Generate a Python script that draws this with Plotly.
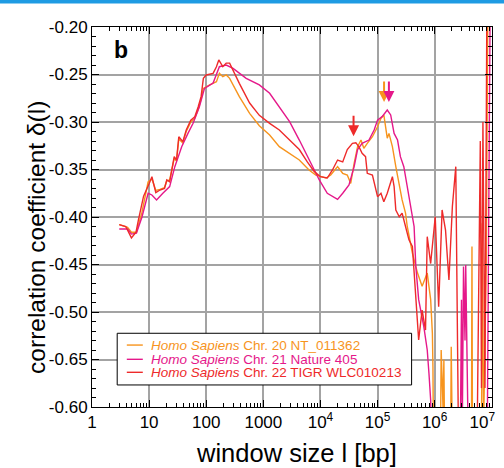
import math
import plotly.graph_objects as go

# ---- data (window size l in bp, correlation coefficient) ----
chr20_x = [3.0, 4.2, 4.9, 6.0, 7.5, 9.6, 11.2, 13.1, 15.5, 18.6, 20.4, 22.9, 27.5, 30.2, 33.1, 38.9,
           44.7, 53.7, 63.1, 72.4, 81.3, 89.1, 115, 151, 170, 195, 224, 257, 380, 575, 851, 1290,
           1905, 2884, 4266, 6310, 8318, 12590, 15140, 19950, 24550, 29510, 33880, 38900, 44670,
           51290, 57540, 66070, 81280, 100000, 114800, 128800, 147900, 158500, 182000, 208900,
           239900, 269200, 309000, 331100, 407400, 501200, 602600, 741300, 851100, 912000, 933000,
           955000, 1260000, 1300000, 1400000, 1450000, 1500000, 1900000, 1950000, 2050000,
           4400000, 4500000, 4600000, 6600000, 6800000, 7200000, 8000000, 8600000]
chr20_y = [-0.408, -0.411, -0.416, -0.416, -0.395, -0.363, -0.360, -0.372, -0.371, -0.369, -0.362,
           -0.361, -0.3385, -0.341, -0.318, -0.322, -0.310, -0.300, -0.296, -0.287, -0.276, -0.2646,
           -0.261, -0.2575, -0.2488, -0.2523, -0.2505, -0.254, -0.2733, -0.2909, -0.304, -0.3137,
           -0.326, -0.333, -0.340, -0.3505, -0.3558, -0.359, -0.3558, -0.347, -0.354, -0.3558,
           -0.3646, -0.3435, -0.326, -0.319, -0.3277, -0.3225, -0.3155, -0.305, -0.296, -0.2926,
           -0.317, -0.312, -0.326, -0.347, -0.368, -0.382, -0.396, -0.410, -0.438, -0.459, -0.473,
           -0.459, -0.487, -0.5225, -0.5576, -0.65, -0.65, -0.54, -0.60, -0.55, -0.65, -0.65,
           -0.5365, -0.65, -0.65, -0.431, -0.65, -0.65, -0.4067, -0.62, -0.45, -0.15]

chr21_x = [3.0, 4.2, 4.9, 6.0, 7.5, 9.6, 11.2, 13.5, 17.4, 22.9, 28.2, 37.2, 47.9, 58.9, 75.9, 93.3,
           132, 170, 224, 295, 501, 851, 1290, 1905, 2884, 4266, 6310, 9550, 13180, 19950, 24550,
           31620, 38900, 44670, 53700, 70800, 87100, 100000, 120200, 147900, 169800, 195000,
           223900, 251200, 288400, 331100, 380200, 436500, 467700, 524800, 645700, 741300, 794300,
           851100, 891300, 2800000, 2950000, 3050000, 3200000, 3400000, 3500000, 3700000, 3900000,
           8300000, 8900000, 9500000]
chr21_y = [-0.4126, -0.4126, -0.418, -0.417, -0.400, -0.375, -0.3768, -0.382, -0.375, -0.368, -0.347,
           -0.326, -0.312, -0.3014, -0.284, -0.2646, -0.259, -0.2418, -0.240, -0.2435, -0.254,
           -0.261, -0.2698, -0.284, -0.2997, -0.319, -0.340, -0.361, -0.375, -0.3814, -0.375,
           -0.3663, -0.347, -0.329, -0.3225, -0.319, -0.3084, -0.298, -0.2944, -0.2874, -0.2926,
           -0.312, -0.319, -0.3365, -0.347, -0.368, -0.389, -0.410, -0.452, -0.487, -0.5155,
           -0.540, -0.5645, -0.5926, -0.65, -0.65, -0.487, -0.62, -0.452, -0.53, -0.4505, -0.56,
           -0.65, -0.65, -0.40, -0.12]

chr22_x = [3.0, 3.9, 4.9, 5.9, 6.5, 8.0, 10.0, 11.2, 13.1, 15.5, 18.6, 20.4, 22.9, 27.5, 30.2, 33.1,
           38.9, 44.7, 53.7, 63.1, 72.4, 81.3, 89.1, 100, 132, 151, 166, 195, 224, 257, 380, 575,
           851, 1290, 1905, 2884, 4266, 5888, 7762, 10000, 13180, 16220, 19950, 24550, 29510,
           36310, 41690, 47860, 53700, 61660, 66070, 81280, 100000, 114800, 128800, 147900,
           169800, 182000, 195000, 208900, 239900, 269200, 309000, 354800, 407400, 467700, 524800,
           602600, 691800, 741300, 851100, 1023000, 1175000, 1349000, 1549000, 1778000, 2042000,
           2344000, 2455000, 2630000, 5500000, 6300000, 6600000, 7000000, 7600000, 8300000]
chr22_y = [-0.408, -0.410, -0.422, -0.416, -0.403, -0.378, -0.365, -0.3576, -0.3744, -0.3716,
           -0.370, -0.361, -0.363, -0.3365, -0.340, -0.3155, -0.3207, -0.3084, -0.298, -0.2944,
           -0.284, -0.2733, -0.254, -0.2505, -0.2488, -0.2418, -0.2347, -0.2418, -0.238, -0.238,
           -0.2593, -0.280, -0.293, -0.3015, -0.3084, -0.319, -0.329, -0.342, -0.352, -0.3576,
           -0.359, -0.3505, -0.340, -0.342, -0.329, -0.3225, -0.3218, -0.3267, -0.333, -0.3365,
           -0.354, -0.3558, -0.3786, -0.375, -0.384, -0.375, -0.3646, -0.3576, -0.368, -0.3926,
           -0.3997, -0.396, -0.410, -0.424, -0.431, -0.487, -0.5295, -0.498, -0.519, -0.4207,
           -0.449, -0.3997, -0.4944, -0.3926, -0.4137, -0.4663, -0.389, -0.347, -0.487, -0.65,
           -0.65, -0.32, -0.58, -0.30, -0.58, -0.12]

series_names = ["Chr. 20 NT_011362", "Chr. 21 Nature 405", "Chr. 22 TIGR WLC010213"]
series_colors = ["#f7941d", "#e5188a", "#ee2a2a"]

y_tickvals = [-0.60, -0.55, -0.50, -0.45, -0.40, -0.35, -0.30, -0.25, -0.20]
y_ticktext = ["-0.60", "-0.65", "-0.50", "-0.45", "-0.40", "-0.35", "-0.30", "-0.25", "-0.20"]
x_tickvals = [1, 10, 100, 1000, 1e4, 1e5, 1e6, 1e7]
x_ticktext = ["1", "10", "100", "1000", "10<sup>4</sup>", "10<sup>5</sup>", "10<sup>6</sup>",
              "10<sup>7</sup>\u00a0\u00a0\u00a0\u00a0"]

# arrows marking peaks: (x position, tip y, colour index)
arrow_x = [38000, 130000, 158000]
arrow_y = [-0.315, -0.279, -0.279]
arrow_c = [2, 0, 1]

FONT = "Liberation Sans, Arial, Helvetica, sans-serif"

fig = go.Figure()
for xs, ys, name, col in zip([chr20_x, chr21_x, chr22_x], [chr20_y, chr21_y, chr22_y],
                             series_names, series_colors):
    fig.add_trace(go.Scatter(x=xs, y=ys, mode="lines", name=name,
                             line=dict(color=col, width=1.4), showlegend=False))

axis_common = dict(showline=True, linecolor="black", linewidth=1, mirror="allticks",
                   ticks="inside", ticklen=7, tickcolor="black", automargin=False,
                   showgrid=True, gridcolor="#a3a3a3", gridwidth=1.5, zeroline=False,
                   tickfont=dict(family=FONT, size=17, color="black"))

fig.update_xaxes(type="log", range=[0, 7.004], tickmode="array", tickvals=x_tickvals,
                 ticktext=x_ticktext, ticklabeloverflow="allow",
                 minor=dict(ticks="inside", ticklen=4, tickcolor="black", dtick="D1",
                            showgrid=False),
                 **axis_common)
fig.update_yaxes(range=[-0.60, -0.20], tickmode="array", tickvals=y_tickvals,
                 ticktext=y_ticktext,
                 minor=dict(ticks="inside", ticklen=4, tickcolor="black", dtick=0.01,
                            showgrid=False),
                 **axis_common)

annotations = []
for ax_, ay_, ci in zip(arrow_x, arrow_y, arrow_c):
    annotations.append(dict(x=math.log10(ax_), y=ay_, xref="x", yref="y", text="",
                            showarrow=True, arrowhead=2, arrowsize=1.1, arrowwidth=2,
                            arrowcolor=series_colors[ci], ax=0, ay=-22, standoff=0))

# panel label
annotations.append(dict(x=0.072, y=0.94, xref="paper", yref="paper", text="<b>b</b>",
                        showarrow=False, font=dict(family=FONT, size=23, color="black"),
                        xanchor="center", yanchor="middle"))
# axis titles
annotations.append(dict(x=0.51, y=-0.121, xref="paper", yref="paper",
                        text="window size l [bp]", showarrow=False,
                        font=dict(family=FONT, size=25.5, color="black"),
                        xanchor="center", yanchor="middle"))
annotations.append(dict(x=-0.1375, y=0.445, xref="paper", yref="paper",
                        text="correlation coefficient \u03b4(l)", showarrow=False, textangle=-90,
                        font=dict(family=FONT, size=24.5, color="black"),
                        xanchor="center", yanchor="middle"))

# manual legend
shapes = [dict(type="rect", xref="paper", yref="paper", x0=0.063, x1=0.799, y0=0.058, y1=0.194,
               line=dict(color="black", width=1), fillcolor="white", layer="above")]
row_y = [0.163, 0.1255, 0.0913]
for ry, name, col in zip(row_y, series_names, series_colors):
    shapes.append(dict(type="line", xref="paper", yref="paper", x0=0.087, x1=0.127, y0=ry, y1=ry,
                       line=dict(color=col, width=1.4), layer="above"))
    annotations.append(dict(x=0.143, y=ry, xref="paper", yref="paper",
                            text="<i>Homo Sapiens</i> " + name, showarrow=False,
                            font=dict(family=FONT, size=13.5, color=col),
                            xanchor="left", yanchor="middle"))

# blue strip at the top of the page
shapes.append(dict(type="rect", xref="paper", yref="paper", x0=-0.25, x1=1.05, y0=1.062, y1=1.1,
                   line=dict(width=0), fillcolor="#1e9be3", layer="above"))

fig.update_layout(width=504, height=468, margin=dict(l=92, r=12, t=27, b=61, autoexpand=False),
                  paper_bgcolor="white", plot_bgcolor="white",
                  annotations=annotations, shapes=shapes, showlegend=False)

fig.write_html("out.html", config={"displayModeBar": False},
               post_script="document.body.style.margin='0';document.body.style.padding='0';")
